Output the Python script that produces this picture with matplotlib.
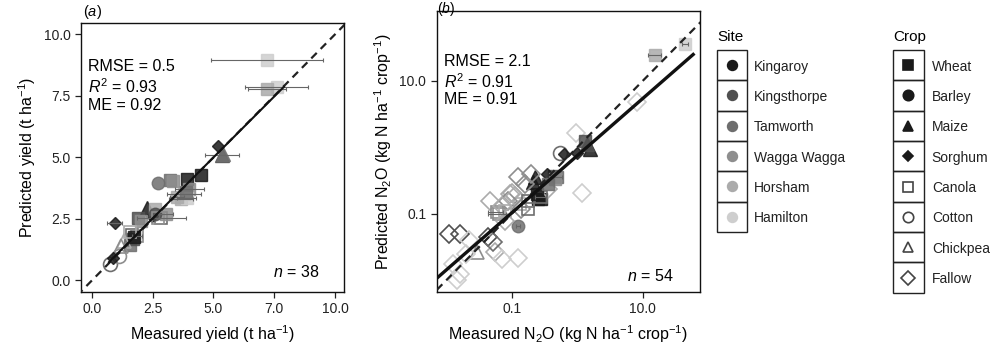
import numpy as np
import matplotlib
matplotlib.use("Agg")
import matplotlib.pyplot as plt
from matplotlib.patches import Rectangle

plt.rcParams['font.family'] = ['Liberation Sans', 'DejaVu Sans']
plt.rcParams['mathtext.fontset'] = 'custom'
plt.rcParams['mathtext.rm'] = 'Liberation Sans'
plt.rcParams['mathtext.it'] = 'Liberation Sans:italic'

# legend categories
sites = ["Kingaroy", "Kingsthorpe", "Tamworth", "Wagga Wagga", "Horsham", "Hamilton"]
site_colors = ["#1a1a1a", "#505050", "#6e6e6e", "#8e8e8e", "#ababab", "#cecece"]
crops = ["Wheat", "Barley", "Maize", "Sorghum", "Canola", "Cotton", "Chickpea", "Fallow"]

# (a) yield, t/ha
site_a = ["Hamilton", "Hamilton", "Horsham", "Kingaroy", "Kingsthorpe", "Kingaroy", "Kingaroy",
          "Tamworth", "Tamworth", "Wagga Wagga", "Horsham", "Horsham", "Wagga Wagga", "Hamilton",
          "Kingaroy", "Kingsthorpe", "Kingaroy", "Tamworth", "Wagga Wagga", "Kingaroy", "Horsham",
          "Tamworth", "Wagga Wagga", "Tamworth", "Kingsthorpe", "Kingaroy", "Horsham", "Wagga Wagga",
          "Tamworth", "Wagga Wagga", "Kingaroy", "Wagga Wagga", "Horsham", "Kingsthorpe", "Tamworth",
          "Wagga Wagga", "Horsham", "Tamworth"]
crop_a = ["Wheat", "Wheat", "Wheat", "Sorghum", "Maize", "Wheat", "Wheat",
          "Barley", "Wheat", "Wheat", "Wheat", "Wheat", "Wheat", "Wheat",
          "Maize", "Wheat", "Sorghum", "Canola", "Wheat", "Sorghum", "Wheat",
          "Canola", "Canola", "Wheat", "Wheat", "Wheat", "Chickpea", "Chickpea",
          "Cotton", "Cotton", "Sorghum", "Wheat", "Wheat", "Barley", "Maize",
          "Canola", "Canola", "Wheat"]
meas_a = [7.2, 7.6, 7.2, 5.2, 5.35, 3.9, 4.5, 2.7, 3.22, 3.35, 3.8, 3.65, 4.0, 3.9,
          2.25, 1.9, 0.93, 2.85, 3.05, 2.47, 2.6, 1.65, 1.85, 1.55, 1.7, 1.75, 1.3, 1.2,
          0.75, 1.13, 0.85, 2.0, 3.5, 2.6, 5.4, 2.7, 1.55, 3.85]
pred_a = [8.95, 7.85, 7.8, 5.48, 5.1, 4.12, 4.3, 3.96, 4.08, 4.05, 3.5, 3.3, 3.7, 3.35,
          2.95, 2.52, 2.33, 2.55, 2.7, 2.62, 2.9, 1.85, 1.8, 1.45, 1.7, 1.75, 1.6, 1.4,
          0.68, 0.98, 0.9, 2.4, 3.4, 2.7, 5.15, 2.55, 1.95, 3.6]
xerr_a = [2.3, 1.3, 0.8, 0, 0.7, 0, 0, 0, 0, 0, 0.7, 0.5, 0.6, 0.4,
          0, 0, 0.3, 1.0, 0.3, 0, 0, 0, 0.2, 0, 0, 0, 0, 0,
          0, 0, 0, 0, 0.3, 0, 0, 0, 0, 0]
fit_a = (0.99, 0.05)          # slope, intercept
fit_a_range = (0.7, 7.9)
xticks_a = [0.0, 2.5, 5.0, 7.5, 10.0]
xticklabels_a = ["0.0", "2.5", "5.0", "7.0", "10.0"]
yticks_a = [0.0, 2.5, 5.0, 7.5, 10.0]

# (b) N2O, kg N/ha/crop
site_b = ["Kingsthorpe", "Kingsthorpe", "Kingsthorpe", "Wagga Wagga", "Horsham", "Hamilton",
          "Hamilton", "Hamilton", "Hamilton", "Tamworth", "Horsham", "Wagga Wagga", "Horsham",
          "Wagga Wagga", "Horsham", "Hamilton", "Hamilton", "Kingaroy", "Kingaroy", "Kingaroy",
          "Kingaroy", "Kingsthorpe", "Tamworth", "Horsham", "Kingaroy", "Kingsthorpe", "Tamworth",
          "Kingaroy", "Kingaroy", "Horsham", "Hamilton", "Hamilton", "Kingaroy", "Wagga Wagga",
          "Horsham", "Wagga Wagga", "Horsham", "Tamworth", "Wagga Wagga", "Tamworth",
          "Wagga Wagga", "Horsham", "Tamworth", "Kingaroy", "Tamworth", "Wagga Wagga",
          "Hamilton", "Tamworth", "Horsham", "Kingsthorpe", "Hamilton", "Wagga Wagga",
          "Horsham", "Hamilton"]
crop_b = ["Fallow", "Fallow", "Fallow", "Chickpea", "Fallow", "Fallow",
          "Fallow", "Fallow", "Fallow", "Barley", "Fallow", "Fallow", "Fallow",
          "Canola", "Canola", "Fallow", "Fallow", "Maize", "Maize", "Wheat",
          "Wheat", "Wheat", "Wheat", "Fallow", "Maize", "Wheat", "Cotton",
          "Sorghum", "Sorghum", "Wheat", "Wheat", "Fallow", "Sorghum", "Wheat",
          "Fallow", "Fallow", "Fallow", "Canola", "Canola", "Canola",
          "Fallow", "Fallow", "Fallow", "Wheat", "Canola", "Fallow",
          "Fallow", "Wheat", "Canola", "Maize", "Fallow", "Fallow",
          "Fallow", "Fallow"]
meas_b = [0.0112, 0.0162, 0.0437, 0.0295, 0.056, 0.0708,
          0.126, 0.0162, 0.0145, 0.126, 0.0468, 0.126, 0.093,
          0.063, 0.135, 1.17, 0.955, 0.224, 0.209, 0.251,
          0.282, 0.437, 0.5, 0.363, 1.58, 1.32, 0.55,
          0.63, 0.98, 15.5, 44.7, 8.1, 0.34, 0.457,
          0.1, 0.089, 0.112, 0.178, 0.059, 0.28,
          0.141, 0.079, 0.052, 0.24, 0.178, 0.2,
          0.0126, 0.355, 0.079, 1.41, 0.0224, 0.158,
          0.071, 0.02]
pred_b = [0.050, 0.050, 0.0447, 0.0263, 0.0269, 0.0209,
          0.0214, 0.0126, 0.0100, 0.066, 0.158, 0.355, 0.2,
          0.1, 0.141, 0.209, 1.66, 0.355, 0.302, 0.166,
          0.166, 0.372, 0.355, 0.234, 0.955, 1.23, 0.83,
          0.79, 0.83, 24.5, 36.3, 4.9, 0.4, 0.33,
          0.209, 0.158, 0.186, 0.158, 0.105, 0.178,
          0.12, 0.079, 0.038, 0.2, 0.12, 0.4,
          0.0178, 0.28, 0.112, 1.12, 0.04, 0.28,
          0.132, 0.025]
xerr_b = [0, 0, 0, 0, 0, 0,
          0, 0, 0, 0.01, 0, 0, 0,
          0.02, 0, 0, 0, 0, 0, 0,
          0, 0, 0.08, 0, 0, 0, 0,
          0, 0, 3.5, 5.0, 0, 0, 0,
          0, 0, 0, 0, 0.015, 0.05,
          0, 0, 0, 0, 0, 0,
          0, 0, 0, 0, 0, 0,
          0, 0]
fit_b = (0.86, -0.125)        # slope, intercept on log10 scale
fit_b_range = (0.001, 59)
ticks_b = [0.1, 10.0]
ticklabels_b = ["0.1", "10.0"]

# marker style per crop: marker, filled, size
crop_style = {
    "Wheat": ("s", True, 9), "Barley": ("o", True, 9), "Maize": ("^", True, 10),
    "Sorghum": ("D", True, 6), "Canola": ("s", False, 9), "Cotton": ("o", False, 10),
    "Chickpea": ("^", False, 10), "Fallow": ("D", False, 9),
}
site_col = dict(zip(sites, site_colors))


def draw_points(ax, s_list, c_list, xs, ys, errs):
    for s, c, x, y, e in zip(s_list, c_list, xs, ys, errs):
        mk, filled, ms = crop_style[c]
        col = site_col[s]
        if filled:
            ax.plot(x, y, marker=mk, ms=ms, mfc=col, mec=col, ls="none", alpha=0.85, zorder=3)
        else:
            ax.plot(x, y, marker=mk, ms=ms, mfc="none", mec=col, mew=1.2, ls="none", zorder=3)
        if e > 0:
            ax.errorbar(x, y, xerr=e, fmt="none", ecolor="#666666", elinewidth=0.8,
                        capsize=1.5, capthick=0.8, zorder=4)


def style_axes(ax):
    for sp in ax.spines.values():
        sp.set_linewidth(1.0)
        sp.set_color("#111111")
    ax.tick_params(axis="both", which="major", length=4, width=0.9, labelsize=10,
                   labelcolor="#222222", color="#222222")
    ax.tick_params(which="minor", length=0)


fig = plt.figure(figsize=(10, 3.52), dpi=100)

# ---- panel (a)
ax1 = fig.add_axes([0.081, 0.1705, 0.263, 0.764])
lim = np.array([-1, 11])
ax1.plot(lim, lim, ls=(0, (3.5, 2.5)), color="#222222", lw=1.6, zorder=5)
fx = np.array(fit_a_range)
ax1.plot(fx, fit_a[0] * fx + fit_a[1], color="#111111", lw=1.5, zorder=5)
draw_points(ax1, site_a, crop_a, meas_a, pred_a, xerr_a)
ax1.set_xlim(-0.45, 10.37)
ax1.set_ylim(-0.47, 10.46)
ax1.set_xticks(xticks_a)
ax1.set_xticklabels(xticklabels_a)
ax1.set_yticks(yticks_a)
ax1.set_yticklabels(["%.1f" % v for v in yticks_a])
style_axes(ax1)
ax1.set_xlabel("Measured yield (t ha$^{-1}$)", fontsize=11.5, labelpad=5)
ax1.set_ylabel("Predicted yield (t ha$^{-1}$)", fontsize=11.5, labelpad=4)
fig.text(0.083, 1 - 12 / 352, "($a$)", fontsize=10.5, ha="left", va="center")
ax1.text(0.027, 0.84, "RMSE = 0.5", transform=ax1.transAxes, fontsize=11.5, va="center")
ax1.text(0.027, 0.762, "$R^2$ = 0.93", transform=ax1.transAxes, fontsize=11.5, va="center")
ax1.text(0.027, 0.695, "ME = 0.92", transform=ax1.transAxes, fontsize=11.5, va="center")
ax1.text(0.905, 0.075, "$n$ = 38", transform=ax1.transAxes, fontsize=11.5, ha="right", va="center")

# ---- panel (b)
ax2 = fig.add_axes([0.4367, 0.1705, 0.2633, 0.797])
ax2.set_xscale("log")
ax2.set_yscale("log")
lim = np.array([1e-3, 1e3])
ax2.plot(lim, lim, ls=(0, (3.5, 2.5)), color="#222222", lw=1.6, zorder=5)
fx = np.logspace(np.log10(fit_b_range[0]), np.log10(fit_b_range[1]), 50)
ax2.plot(fx, 10 ** (fit_b[1] + fit_b[0] * np.log10(fx)), color="#111111", lw=2.4, zorder=5)
draw_points(ax2, site_b, crop_b, meas_b, pred_b, xerr_b)
ax2.set_xlim(0.00716, 75)
ax2.set_ylim(0.00668, 111)
ax2.set_xticks(ticks_b)
ax2.set_xticklabels(ticklabels_b)
ax2.set_yticks(ticks_b)
ax2.set_yticklabels(ticklabels_b)
ax2.minorticks_off()
style_axes(ax2)
ax2.set_xlabel("Measured N$_2$O (kg N ha$^{-1}$ crop$^{-1}$)", fontsize=11.5, labelpad=5)
ax2.set_ylabel("Predicted N$_2$O (kg N ha$^{-1}$ crop$^{-1}$)", fontsize=11.5, labelpad=4)
fig.text(0.437, 1.0, "($b$)", fontsize=10, ha="left", va="top")
ax2.text(0.029, 0.823, "RMSE = 2.1", transform=ax2.transAxes, fontsize=11.5, va="center")
ax2.text(0.029, 0.748, "$R^2$ = 0.91", transform=ax2.transAxes, fontsize=11.5, va="center")
ax2.text(0.029, 0.687, "ME = 0.91", transform=ax2.transAxes, fontsize=11.5, va="center")
ax2.text(0.90, 0.057, "$n$ = 54", transform=ax2.transAxes, fontsize=11.5, ha="right", va="center")


# ---- legends drawn as boxed keys
def key_legend(rect, title, labels, handles):
    lax = fig.add_axes(rect)
    n = len(labels)
    lax.set_xlim(0, 1)
    lax.set_ylim(n, 0)
    lax.axis("off")
    for i, (lab, h) in enumerate(zip(labels, handles)):
        lax.add_patch(Rectangle((0, i), 1, 1, fill=False, lw=1.0, ec="#222222", clip_on=False))
        mk, ms, fc, ec = h
        lax.plot(0.5, i + 0.5, marker=mk, ms=ms, mfc=fc, mec=ec, mew=1.2, ls="none", clip_on=False)
        lax.text(1.25, i + 0.55, lab, fontsize=10, va="center", ha="left", color="#222222")
    lax.text(0.02, -0.2, title, fontsize=11, va="bottom", ha="left")


site_handles = [("o", 7, c, c) for c in site_colors]
key_legend([0.7167, 0.341, 0.030, 0.517], "Site", sites, site_handles)

crop_handles = []
for c in crops:
    mk, filled, ms = crop_style[c]
    size = 5 if c == "Sorghum" else 7.5
    if filled:
        crop_handles.append((mk, size, "#1a1a1a", "#1a1a1a"))
    else:
        crop_handles.append((mk, size, "none", "#444444"))
key_legend([0.8927, 0.1685, 0.0313, 0.6895], "Crop", crops, crop_handles)

fig.savefig("out.png", dpi=100)
